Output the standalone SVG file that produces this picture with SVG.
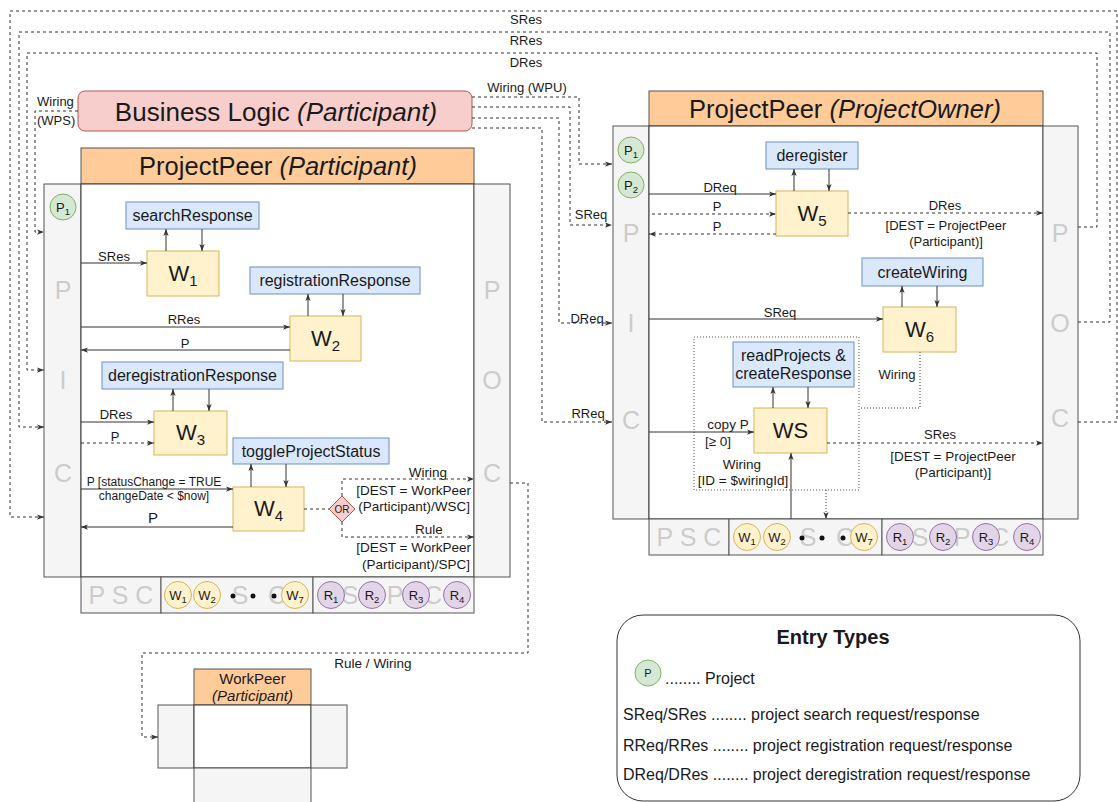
<svg xmlns="http://www.w3.org/2000/svg" width="1118" height="802" viewBox="0 0 1118 802">
  <style>
    text { font-family: "Liberation Sans", Arial, sans-serif; fill: #1a1a1a; }
    .t13 { font-size: 13px; }
    .t12 { font-size: 12px; }
    .t135 { font-size: 13.5px; }
    .t15 { font-size: 15px; }
    .t16 { font-size: 16px; }
    .mid { text-anchor: middle; }
    .end { text-anchor: end; }
    .big { font-size: 25.5px; }
    .wl { font-size: 22px; }
    .ws { font-size: 15px; }
    .cl { font-size: 13px; }
    .cs { font-size: 9.5px; }
    .gl { font-size: 25px; fill: #cccccc; text-anchor: middle; }
    .act { fill: #dae8fc; stroke: #6c8ebf; }
    .wrk { fill: #fff2cc; stroke: #d6b656; }
    .pnl { fill: #f5f5f5; stroke: #555; }
    .hdr { fill: #ffcc99; stroke: #555; }
    .main { fill: #ffffff; stroke: #333; }
    .pc { fill: #d5e8d4; stroke: #82b366; }
    .wc { fill: #fff2cc; stroke: #d6b656; }
    .rc { fill: #e1d5e7; stroke: #9673a6; }
    .ln { fill: none; stroke: #333; stroke-width: 1; }
    .da { stroke-dasharray: 3 3; }
    .dt { stroke-dasharray: 1 2; }
    .arr { marker-end: url(#ah); }
  </style>
  <defs>
    <marker id="ah" viewBox="0 0 8 8" refX="8" refY="4" markerWidth="7" markerHeight="7" markerUnits="userSpaceOnUse" orient="auto">
      <path d="M0,1 L8,4 L0,7 L2,4 z" fill="#333"/>
    </marker>
  </defs>

  <rect width="1118" height="802" fill="#ffffff"/>

  <!-- ========== Business Logic ========== -->
  <g id="business-logic">
    <rect x="78" y="91" width="394" height="40" rx="7" fill="#f8cecc" stroke="#b85450"/>
    <text x="276" y="120.5" font-size="26" class="mid">Business Logic <tspan font-style="italic">(Participant)</tspan></text>
  </g>

  <!-- ========== ProjectPeer (Participant) ========== -->
  <g id="peer-participant">
    <rect x="81" y="148" width="393" height="36" class="hdr"/>
    <text x="278" y="175" class="big mid">ProjectPeer <tspan font-style="italic">(Participant)</tspan></text>
    <rect x="44" y="184" width="37" height="393" class="pnl"/>
    <rect x="81" y="184" width="393" height="393" class="main"/>
    <rect x="474" y="184" width="36" height="393" class="pnl"/>
    <text x="63" y="299" class="gl">P</text>
    <text x="63" y="389" class="gl">I</text>
    <text x="63" y="482" class="gl">C</text>
    <text x="492" y="299" class="gl">P</text>
    <text x="492" y="389" class="gl">O</text>
    <text x="492" y="482" class="gl">C</text>
    <!-- storage strip -->
    <rect x="81" y="577" width="80" height="36" class="pnl"/>
    <rect x="161" y="577" width="152" height="36" class="pnl"/>
    <rect x="313" y="577" width="161" height="36" class="pnl"/>
    <text x="121" y="604" class="gl">P S C</text>
    <text x="240" y="604" class="gl">S</text>
    <text x="277" y="604" class="gl">C</text>
    <text x="350" y="604" class="gl">S</text>
    <text x="395" y="604" class="gl">P</text>
    <text x="433" y="604" class="gl">C</text>
  </g>

  <g id="p1-left">
    <circle cx="63" cy="207" r="13" class="pc"/>
    <text x="63" y="212" class="cl mid">P<tspan class="cs" dy="3">1</tspan></text>
  </g>

  <g id="strip-left">
    <circle cx="178" cy="595" r="13.5" class="wc"/>
    <text x="178" y="600" class="cl mid">W<tspan class="cs" dy="3">1</tspan></text>
    <circle cx="207" cy="595" r="13.5" class="wc"/>
    <text x="207" y="600" class="cl mid">W<tspan class="cs" dy="3">2</tspan></text>
    <circle cx="233" cy="596" r="2.5" fill="#111"/>
    <circle cx="253" cy="596" r="2.5" fill="#111"/>
    <circle cx="274" cy="596" r="2.5" fill="#111"/>
    <circle cx="295" cy="595" r="13.5" class="wc"/>
    <text x="295" y="600" class="cl mid">W<tspan class="cs" dy="3">7</tspan></text>
    <circle cx="331" cy="595" r="13.5" class="rc"/>
    <text x="331" y="600" class="cl mid">R<tspan class="cs" dy="3">1</tspan></text>
    <circle cx="372" cy="595" r="13.5" class="rc"/>
    <text x="372" y="600" class="cl mid">R<tspan class="cs" dy="3">2</tspan></text>
    <circle cx="416" cy="595" r="13.5" class="rc"/>
    <text x="416" y="600" class="cl mid">R<tspan class="cs" dy="3">3</tspan></text>
    <circle cx="457" cy="595" r="13.5" class="rc"/>
    <text x="457" y="600" class="cl mid">R<tspan class="cs" dy="3">4</tspan></text>
  </g>

  <g id="searchResponse">
    <rect x="126" y="202" width="133" height="27" class="act"/>
    <text x="192.5" y="221" class="t16 mid">searchResponse</text>
  </g>
  <g id="w1">
    <rect x="147" y="251" width="72" height="45" class="wrk"/>
    <text x="183" y="281" class="wl mid">W<tspan class="ws" dy="5">1</tspan></text>
  </g>
  <g id="registrationResponse">
    <rect x="250" y="267" width="170" height="27" class="act"/>
    <text x="335" y="286" class="t16 mid">registrationResponse</text>
  </g>
  <g id="w2">
    <rect x="290" y="316" width="71" height="45" class="wrk"/>
    <text x="325.5" y="346" class="wl mid">W<tspan class="ws" dy="5">2</tspan></text>
  </g>
  <g id="deregistrationResponse">
    <rect x="102" y="362" width="181" height="27" class="act"/>
    <text x="192.5" y="381" class="t16 mid">deregistrationResponse</text>
  </g>
  <g id="w3">
    <rect x="154" y="411" width="73" height="44" class="wrk"/>
    <text x="190.5" y="440" class="wl mid">W<tspan class="ws" dy="5">3</tspan></text>
  </g>
  <g id="toggleProjectStatus">
    <rect x="233" y="438" width="156" height="26" class="act"/>
    <text x="311" y="456.5" class="t16 mid">toggleProjectStatus</text>
  </g>
  <g id="w4">
    <rect x="233" y="487" width="71" height="44" class="wrk"/>
    <text x="268.5" y="516" class="wl mid">W<tspan class="ws" dy="5">4</tspan></text>
  </g>
  <g id="or-gate">
    <polygon points="342,496 355,509 342,522 329,509" fill="#f8cecc" stroke="#b85450"/>
    <text x="342" y="512.5" font-size="10" class="mid">OR</text>
  </g>

  <!-- ========== ProjectPeer (ProjectOwner) ========== -->
  <g id="peer-owner">
    <rect x="649" y="91" width="394" height="35" class="hdr"/>
    <text x="845" y="117.5" class="big mid">ProjectPeer <tspan font-style="italic">(ProjectOwner)</tspan></text>
    <rect x="613" y="126" width="36" height="393" class="pnl"/>
    <rect x="649" y="126" width="394" height="393" class="main"/>
    <rect x="1043" y="126" width="35" height="393" class="pnl"/>
    <text x="631" y="242" class="gl">P</text>
    <text x="631" y="332" class="gl">I</text>
    <text x="631" y="429" class="gl">C</text>
    <text x="1060" y="242" class="gl">P</text>
    <text x="1060" y="332" class="gl">O</text>
    <text x="1060" y="427" class="gl">C</text>
    <rect x="649" y="519" width="80" height="36" class="pnl"/>
    <rect x="729" y="519" width="153" height="36" class="pnl"/>
    <rect x="882" y="519" width="161" height="36" class="pnl"/>
    <text x="689" y="546" class="gl">P S C</text>
    <text x="808" y="546" class="gl">S</text>
    <text x="845" y="546" class="gl">C</text>
    <text x="920" y="546" class="gl">S</text>
    <text x="962" y="546" class="gl">P</text>
    <text x="1000" y="546" class="gl">C</text>
  </g>

  <g id="p-right">
    <circle cx="631" cy="150" r="13" class="pc"/>
    <text x="631" y="155" class="cl mid">P<tspan class="cs" dy="3">1</tspan></text>
    <circle cx="631" cy="185" r="13" class="pc"/>
    <text x="631" y="190" class="cl mid">P<tspan class="cs" dy="3">2</tspan></text>
  </g>

  <g id="strip-right">
    <circle cx="747" cy="537" r="13.5" class="wc"/>
    <text x="747" y="542" class="cl mid">W<tspan class="cs" dy="3">1</tspan></text>
    <circle cx="777" cy="537" r="13.5" class="wc"/>
    <text x="777" y="542" class="cl mid">W<tspan class="cs" dy="3">2</tspan></text>
    <circle cx="802" cy="538" r="2.5" fill="#111"/>
    <circle cx="822" cy="538" r="2.5" fill="#111"/>
    <circle cx="843" cy="538" r="2.5" fill="#111"/>
    <circle cx="864" cy="537" r="13.5" class="wc"/>
    <text x="864" y="542" class="cl mid">W<tspan class="cs" dy="3">7</tspan></text>
    <circle cx="900" cy="537" r="13.5" class="rc"/>
    <text x="900" y="542" class="cl mid">R<tspan class="cs" dy="3">1</tspan></text>
    <circle cx="943" cy="537" r="13.5" class="rc"/>
    <text x="943" y="542" class="cl mid">R<tspan class="cs" dy="3">2</tspan></text>
    <circle cx="986" cy="537" r="13.5" class="rc"/>
    <text x="986" y="542" class="cl mid">R<tspan class="cs" dy="3">3</tspan></text>
    <circle cx="1027" cy="537" r="13.5" class="rc"/>
    <text x="1027" y="542" class="cl mid">R<tspan class="cs" dy="3">4</tspan></text>
  </g>

  <g id="deregister">
    <rect x="766" y="142" width="92" height="27" class="act"/>
    <text x="812" y="161" class="t16 mid">deregister</text>
  </g>
  <g id="w5">
    <rect x="776" y="191" width="72" height="45" class="wrk"/>
    <text x="812" y="221" class="wl mid">W<tspan class="ws" dy="5">5</tspan></text>
  </g>
  <g id="createWiring">
    <rect x="862" y="258" width="121" height="28" class="act"/>
    <text x="922.5" y="277.5" class="t16 mid">createWiring</text>
  </g>
  <g id="w6">
    <rect x="883" y="307" width="73" height="45" class="wrk"/>
    <text x="919.5" y="337" class="wl mid">W<tspan class="ws" dy="5">6</tspan></text>
  </g>
  <g id="ws-group">
    <rect x="694" y="337" width="165" height="153" fill="none" stroke="#555" stroke-dasharray="1 2"/>
  </g>
  <g id="readProjects">
    <rect x="733" y="342" width="121" height="45" class="act"/>
    <text x="793.5" y="360.5" class="t16 mid">readProjects &amp;</text>
    <text x="793.5" y="378.5" class="t16 mid">createResponse</text>
  </g>
  <g id="ws">
    <rect x="754" y="408" width="73" height="45" class="wrk"/>
    <text x="790.5" y="438" class="wl mid">WS</text>
  </g>

  <!-- ========== WorkPeer (Participant) ========== -->
  <g id="workpeer">
    <rect x="194" y="669" width="117" height="36" class="hdr"/>
    <text x="252.5" y="684" class="t15 mid">WorkPeer</text>
    <text x="252.5" y="701" class="t15 mid" font-style="italic">(Participant)</text>
    <rect x="158" y="705" width="36" height="63" class="pnl"/>
    <rect x="194" y="705" width="117" height="63" class="main"/>
    <rect x="311" y="705" width="36" height="63" class="pnl"/>
    <rect x="194" y="768" width="117" height="40" class="pnl"/>
  </g>

  <!-- ========== Legend ========== -->
  <g id="entry-types">
    <rect x="617" y="615" width="463" height="186" rx="26" fill="#ffffff" stroke="#333"/>
    <text x="833" y="644" font-size="20" font-weight="bold" class="mid">Entry Types</text>
    <circle cx="648" cy="673" r="13" class="pc"/>
    <text x="648" y="677" font-size="11" class="mid">P</text>
    <text x="665" y="684" class="t16">........ Project</text>
    <text x="623" y="720" class="t16">SReq/SRes ........ project search request/response</text>
    <text x="623" y="751" class="t16">RReq/RRes ........ project registration request/response</text>
    <text x="623" y="780" class="t16">DReq/DRes ........ project deregistration request/response</text>
  </g>

  <!-- ========== Connectors ========== -->
  <g id="connectors">
    <!-- responses routed over the top from the owner peer to the participant peer -->
    <path d="M1078,422 H1117 V11 H10 V517 H44" class="ln da arr"/>
    <path d="M1078,322 H1110 V32 H19 V427 H44" class="ln da arr"/>
    <path d="M1078,227 H1097 V53 H27 V370 H44" class="ln da arr"/>
    <text x="526" y="23.5" class="t13 mid">SRes</text>
    <text x="526" y="45" class="t13 mid">RRes</text>
    <text x="526" y="67" class="t13 mid">DRes</text>

    <!-- business logic outputs -->
    <path d="M78,111 H35 V232 H44" class="ln da arr"/>
    <text x="37" y="105.5" class="t13">Wiring</text>
    <text x="37" y="125" class="t13">(WPS)</text>
    <path d="M472,97 H579 V164 H612" class="ln da arr"/>
    <path d="M472,107 H570 V225 H612" class="ln da arr"/>
    <path d="M472,118 H559 V323 H612" class="ln da arr"/>
    <path d="M472,128 H542 V422 H612" class="ln da arr"/>
    <text x="527" y="91.5" class="t13 mid">Wiring (WPU)</text>
    <text x="591" y="218.5" class="t13 mid">SReq</text>
    <text x="587" y="322.5" class="t13 mid">DReq</text>
    <text x="588" y="417.5" class="t13 mid">RReq</text>

    <!-- participant peer internals -->
    <path d="M166,251 V229" class="ln arr"/>
    <path d="M202,229 V251" class="ln arr"/>
    <path d="M81,263 H147" class="ln arr"/>
    <text x="114" y="260.5" class="t13 mid">SRes</text>

    <path d="M308,316 V294" class="ln arr"/>
    <path d="M343,294 V316" class="ln arr"/>
    <path d="M81,327 H290" class="ln arr"/>
    <text x="184" y="323.5" class="t13 mid">RRes</text>
    <path d="M290,350 H81" class="ln arr"/>
    <text x="185" y="347.5" class="t13 mid">P</text>

    <path d="M173,411 V389" class="ln arr"/>
    <path d="M209,389 V411" class="ln arr"/>
    <path d="M81,422 H154" class="ln arr"/>
    <text x="116" y="418.5" class="t13 mid">DRes</text>
    <path d="M81,443 H154" class="ln da arr"/>
    <text x="115" y="440.5" class="t13 mid">P</text>

    <path d="M251,487 V464" class="ln arr"/>
    <path d="M286,464 V487" class="ln arr"/>
    <path d="M81,489 H233" class="ln arr"/>
    <text x="154" y="486" class="t12 mid">P [statusChange = TRUE</text>
    <text x="154" y="499.5" class="t12 mid">changeDate &lt; $now]</text>
    <path d="M233,527 H81" class="ln arr"/>
    <text x="153" y="523" class="t15 mid">P</text>

    <path d="M304,509 H329" class="ln da"/>
    <path d="M342,496 V479 H474" class="ln da arr"/>
    <path d="M342,522 V537 H474" class="ln da arr"/>
    <text x="428" y="476.5" class="t135 mid">Wiring</text>
    <text x="471" y="494.5" class="t135 end">[DEST = WorkPeer</text>
    <text x="470" y="511" class="t135 end">(Participant)/WSC]</text>
    <text x="429" y="533.5" class="t135 mid">Rule</text>
    <text x="471" y="552" class="t135 end">[DEST = WorkPeer</text>
    <text x="470" y="568.5" class="t135 end">(Participant)/SPC]</text>

    <!-- to the work peer -->
    <path d="M510,483 H528 V653 H142 V737 H158" class="ln da arr"/>
    <text x="373" y="668" class="t135 mid">Rule / Wiring</text>

    <!-- owner peer internals -->
    <path d="M794,191 V169" class="ln arr"/>
    <path d="M829,169 V191" class="ln arr"/>
    <path d="M649,194 H776" class="ln arr"/>
    <text x="720" y="191.5" class="t13 mid">DReq</text>
    <path d="M652,214 H776" class="ln da arr"/>
    <text x="717" y="210.5" class="t13 mid">P</text>
    <path d="M776,234 H649" class="ln da arr"/>
    <text x="717" y="230.5" class="t13 mid">P</text>
    <path d="M848,213 H1043" class="ln da arr"/>
    <text x="945" y="209.5" class="t13 mid">DRes</text>
    <text x="946" y="229.5" class="t13 mid">[DEST = ProjectPeer</text>
    <text x="946" y="245.5" class="t13 mid">(Participant)]</text>

    <path d="M902,307 V286" class="ln arr"/>
    <path d="M937,286 V307" class="ln arr"/>
    <path d="M649,319 H883" class="ln arr"/>
    <text x="780" y="316.5" class="t13 mid">SReq</text>

    <path d="M920,352 V408 H859" class="ln dt"/>
    <text x="897" y="378.5" class="t13 mid">Wiring</text>

    <path d="M773,408 V387" class="ln arr"/>
    <path d="M808,387 V408" class="ln arr"/>
    <path d="M649,432 H754" class="ln arr"/>
    <text x="728" y="428.5" class="t135 mid">copy P</text>
    <text x="718" y="445.5" class="t135 mid">[≥ 0]</text>
    <path d="M791,519 V453" class="ln arr"/>
    <text x="742" y="468.5" class="t135 mid">Wiring</text>
    <text x="743" y="484.5" class="t135 mid">[ID = $wiringId]</text>
    <path d="M826,490 V519" class="ln dt arr"/>

    <path d="M827,443 H1043" class="ln da arr"/>
    <text x="940" y="438.5" class="t13 mid">SRes</text>
    <text x="953" y="460.5" class="t135 mid">[DEST = ProjectPeer</text>
    <text x="953" y="476.5" class="t135 mid">(Participant)]</text>
  </g>
</svg>
